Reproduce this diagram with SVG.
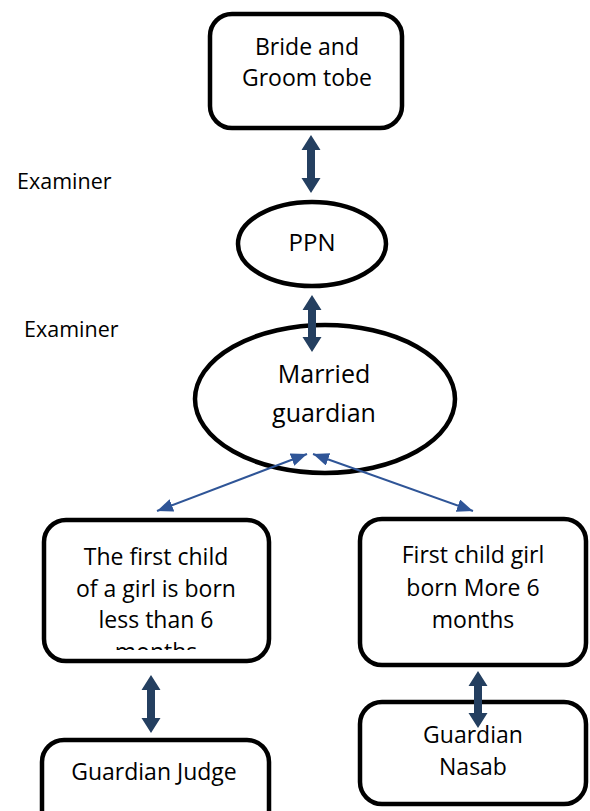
<svg xmlns="http://www.w3.org/2000/svg" width="590" height="811" viewBox="0 0 590 811">
  <style>
    .box { fill: #ffffff; stroke: #000000; stroke-width: 4.5; }
    .t { font-family: "Open Sans", "Liberation Sans", sans-serif; font-size: 23px; fill: #000000; text-anchor: middle; }
    .lbl { font-family: "Open Sans", "Liberation Sans", sans-serif; font-size: 21.5px; fill: #000000; }
    .blk { fill: #243F60; stroke: none; }
    .thin { stroke: #2F5597; stroke-width: 2; fill: none; marker-start: url(#ah); marker-end: url(#ah); }
  </style>
  <defs>
    <marker id="ah" markerUnits="userSpaceOnUse" markerWidth="18" markerHeight="14" refX="16" refY="6.5" orient="auto-start-reverse">
      <path d="M0,0 L16,6.5 L0,13 z" fill="#2F5597"/>
    </marker>
    <clipPath id="clipMonths">
      <rect x="40" y="520" width="235" height="130"/>
    </clipPath>
  </defs>

  <rect width="590" height="811" fill="#ffffff"/>

  <g id="label-examiner-1">
    <text class="lbl" x="17" y="189">Examiner</text>
  </g>
  <g id="label-examiner-2">
    <text class="lbl" x="24" y="337">Examiner</text>
  </g>

  <g id="node-bride-groom">
    <rect class="box" x="210" y="14" width="192" height="114" rx="22" ry="22"/>
    <text class="t" x="307" y="55">Bride and</text>
    <text class="t" x="307" y="86">Groom tobe</text>
  </g>

  <g id="node-ppn">
    <ellipse class="box" cx="312" cy="244" rx="74" ry="42"/>
    <text class="t" x="312" y="251" style="font-size:24px">PPN</text>
  </g>

  <g id="node-married-guardian">
    <ellipse class="box" cx="325" cy="399" rx="130" ry="74"/>
    <text class="t" x="324" y="383" style="font-size:25px">Married</text>
    <text class="t" x="324" y="422" style="font-size:25px">guardian</text>
  </g>

  <g id="node-less-than-6">
    <rect class="box" x="44" y="520" width="225" height="141" rx="22" ry="22"/>
    <g clip-path="url(#clipMonths)">
      <text class="t" x="156" y="565">The first child</text>
      <text class="t" x="156" y="597">of a girl is born</text>
      <text class="t" x="156" y="628">less than 6</text>
      <text class="t" x="156" y="660">months</text>
    </g>
  </g>

  <g id="node-more-6">
    <rect class="box" x="360" y="519" width="226" height="146" rx="22" ry="22"/>
    <text class="t" x="473" y="563">First child girl</text>
    <text class="t" x="473" y="596">born More 6</text>
    <text class="t" x="473" y="628">months</text>
  </g>

  <g id="node-guardian-judge">
    <rect class="box" x="42" y="740" width="227" height="95" rx="22" ry="22"/>
    <text class="t" x="154" y="780">Guardian Judge</text>
  </g>

  <g id="node-guardian-nasab">
    <rect class="box" x="360" y="702" width="226" height="102" rx="22" ry="22"/>
    <text class="t" x="473" y="743">Guardian</text>
    <text class="t" x="473" y="775">Nasab</text>
  </g>

  <g id="connectors">
    <polygon class="blk" points="311,135 320.5,150 315,150 315,178 320.5,178 311,193 301.5,178 307,178 307,150 301.5,150"/>
    <polygon class="blk" points="312,295 321.5,310 316,310 316,337 321.5,337 312,352 302.5,337 308,337 308,310 302.5,310"/>
    <line class="thin" x1="307" y1="454" x2="157" y2="511"/>
    <line class="thin" x1="313" y1="454" x2="473" y2="511"/>
    <polygon class="blk" points="151,675 160.5,690 155,690 155,718 160.5,718 151,733 141.5,718 147,718 147,690 141.5,690"/>
    <polygon class="blk" points="478,671 487.5,686 482,686 482,713 487.5,713 478,728 468.5,713 474,713 474,686 468.5,686"/>
  </g>
</svg>
